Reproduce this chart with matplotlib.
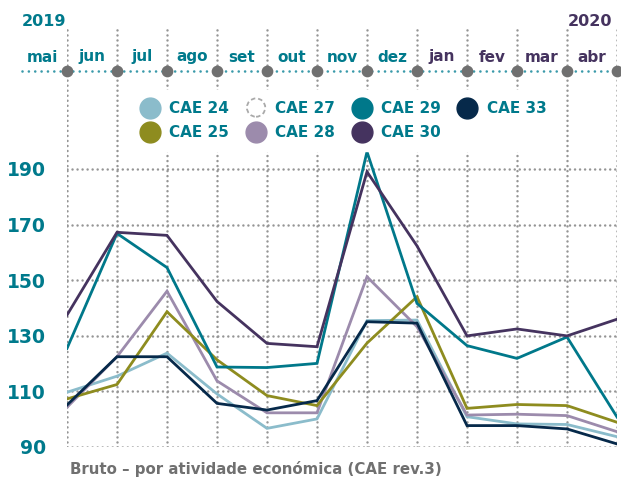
import matplotlib
matplotlib.use("Agg")
import matplotlib.pyplot as plt
import matplotlib.patches as mpatches
from matplotlib.lines import Line2D
from matplotlib.legend_handler import HandlerBase

# meses (mai 2019 - abr 2020)
months = ["mai", "jun", "jul", "ago", "set", "out", "nov", "dez", "jan", "fev", "mar", "abr"]
months_2019 = 8  # mai..dez

yticks = [90, 110, 130, 150, 170, 190]

cae24 = [109.6, 115.4, 123.7, 109.0, 96.6, 100.0, 135.4, 135.6, 100.8, 98.2, 98.0, 93.6]
cae25 = [107.2, 112.4, 138.6, 121.3, 108.4, 104.8, 127.3, 144.0, 103.8, 105.2, 104.8, 98.8]
cae28 = [104.2, 122.4, 146.0, 113.7, 102.2, 102.2, 151.2, 133.2, 101.4, 101.7, 101.2, 95.4]
cae29 = [125.4, 166.8, 154.5, 118.7, 118.5, 120.0, 196.2, 141.6, 126.4, 121.8, 129.5, 100.7]
cae30 = [137.4, 167.2, 166.1, 142.3, 127.2, 126.0, 189.0, 162.3, 129.9, 132.4, 129.9, 135.9]
cae33 = [105.0, 122.4, 122.4, 105.6, 103.2, 106.6, 135.0, 134.5, 97.6, 97.6, 96.4, 91.0]

TEAL = "#007a8c"
PURPLE = "#45335f"
GREY = "#959595"

colors = {
    "CAE 24": "#8bbccb",
    "CAE 25": "#8e8c1f",
    "CAE 28": "#9c8bac",
    "CAE 29": "#00788a",
    "CAE 30": "#45335f",
    "CAE 33": "#06294a",
}


class DashedCircle(HandlerBase):
    # circulo tracejado para CAE 27 (sem dados)
    def create_artists(self, legend, orig, xd, yd, w, h, fontsize, trans):
        c = mpatches.Circle((w / 2 - xd, h / 2 - yd), radius=6.6,
                            facecolor="white", edgecolor="#aaaaaa",
                            linestyle=(0, (2.5, 1.6)), lw=1.3, transform=trans)
        return [c]


W, H = 621, 478
fig = plt.figure(figsize=(W / 100, H / 100), dpi=100)

# px -> eixos
x0, x1 = 67, 617
y90, y190 = 446.7, 169.0
ppu = (y90 - y190) / 100.0
ytop_px = 25
ytop = 90 + (y90 - ytop_px) / ppu

ax = fig.add_axes([x0 / W, 1 - y90 / H, (x1 - x0) / W, (y90 - ytop_px) / H])
ax.set_xlim(0, len(months) - 1)
ax.set_ylim(90, ytop)

for s in ax.spines.values():
    s.set_visible(False)

ax.set_xticks(range(len(months)))
ax.set_xticklabels([])
ax.set_yticks(yticks)
ax.set_yticklabels([str(v) for v in yticks], color=TEAL, fontsize=13.5, fontweight="bold")
ax.tick_params(length=0, axis="both")
ax.tick_params(axis="y", pad=15)
ax.grid(True, color=GREY, linewidth=1.8, linestyle=(0, (0.01, 2.0)), dash_capstyle="round")
ax.set_axisbelow(True)

series = [("CAE 24", cae24), ("CAE 28", cae28), ("CAE 25", cae25),
          ("CAE 33", cae33), ("CAE 29", cae29), ("CAE 30", cae30)]
for name, vals in series:
    ax.plot(range(len(vals)), vals, color=colors[name], lw=2.0, solid_joinstyle="miter", zorder=3)

# linha do tempo no topo
ty = 90 + (y90 - 70.7) / ppu
ax.plot([-0.9, 11.1], [ty, ty], color="#3a9aaa", lw=1.9, linestyle=(0, (0.01, 2.4)),
        dash_capstyle="round", clip_on=False, zorder=4)
ax.scatter(range(len(months)), [ty] * len(months), s=55, color="#707070", zorder=5, clip_on=False)

my = 90 + (y90 - 57) / ppu
for i, m in enumerate(months):
    c = TEAL if i < months_2019 else PURPLE
    ax.text(i - 0.5, my, m, color=c, fontsize=11, fontweight="bold",
            ha="center", va="center", clip_on=False)

ax.text(-0.9, 90 + (y90 - 21) / ppu, "2019", color=TEAL, fontsize=11.5, fontweight="bold",
        ha="left", va="center", clip_on=False)
ax.text(10.9, 90 + (y90 - 22) / ppu, "2020", color=PURPLE, fontsize=11.5, fontweight="bold",
        ha="right", va="center", clip_on=False)

# legenda
def mk(name):
    return Line2D([], [], marker="o", linestyle="none", markersize=15,
                  markerfacecolor=colors[name], markeredgecolor=colors[name])

handles = [mk("CAE 24"), mk("CAE 25"), mpatches.Circle((0, 0)), mk("CAE 28"),
           mk("CAE 29"), mk("CAE 30"), mk("CAE 33")]
labels = ["CAE 24", "CAE 25", "CAE 27", "CAE 28", "CAE 29", "CAE 30", "CAE 33"]
leg = ax.legend(handles, labels, ncol=4, loc="center",
                bbox_to_anchor=(343 / W, 1 - 120.5 / H), bbox_transform=fig.transFigure,
                frameon=True, fancybox=False, framealpha=1, edgecolor="white",
                prop={"size": 11, "weight": "bold"}, handlelength=1.4,
                handletextpad=0.55, columnspacing=1.05, labelspacing=0.6,
                borderpad=0.7, handler_map={mpatches.Circle: DashedCircle()})
for t in leg.get_texts():
    t.set_color(TEAL)
leg.set_zorder(6)

fig.text(70 / W, 1 - 469 / H, "Bruto – por atividade económica (CAE rev.3)",
         color="#707070", fontsize=10.8, fontweight="bold", ha="left", va="center")

fig.savefig("out.png", dpi=100)
